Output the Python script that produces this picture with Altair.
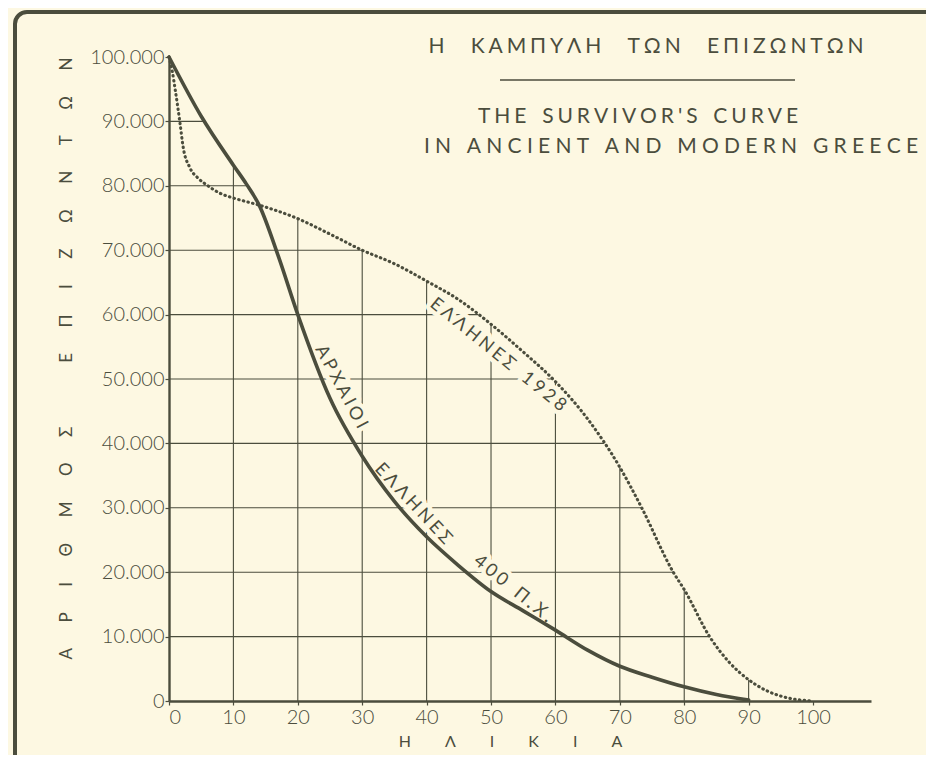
import altair as alt
import numpy as np
import pandas as pd

BG = "#fdf8e2"
INK = "#4b4d3d"
FONT = "Lato"
FW = 400

# --- data -----------------------------------------------------------------
ancient_age = [0, 5, 10, 12, 14, 17, 20, 25, 30, 35, 40, 45, 50, 55, 60, 65, 70, 75, 80, 85, 90]
ancient_surv = [100000, 90800, 83200, 80300, 77000, 69000, 60000, 47000, 38000, 31000, 25500,
                21000, 17000, 14000, 11000, 7900, 5400, 3700, 2200, 1000, 150]

modern_age = [0, 0.5, 1, 1.7, 2.2, 3.2, 4.5, 5.9, 8, 10, 14, 20, 25, 30, 35, 40, 45, 50, 55, 60,
              65, 70, 73.4, 78.3, 80, 84, 87, 90, 93, 96, 100]
modern_surv = [100000, 97800, 94700, 89800, 86000, 82900, 81200, 80100, 78800, 78100, 77000,
               74900, 72500, 70000, 67900, 65200, 62300, 58500, 54200, 49600, 43800, 36300,
               30000, 20000, 17300, 9900, 6000, 3300, 1500, 500, 0]

x_ticks = [0, 10, 20, 30, 40, 50, 60, 70, 80, 90, 100]
y_ticks = [0, 10000, 20000, 30000, 40000, 50000, 60000, 70000, 80000, 90000, 100000]
grid_ages = [10, 20, 30, 40, 50, 60, 70, 80, 90]
grid_levels = [10000, 20000, 30000, 40000, 50000, 60000, 70000, 80000, 90000]

X_MAX = 109

# grid lines stop at the upper envelope of the two curves
fine = np.linspace(0, X_MAX, 10901)
env = np.maximum(np.interp(fine, ancient_age, ancient_surv, right=0),
                 np.interp(fine, modern_age, modern_surv, right=0))
vgrid = pd.DataFrame({
    "age": grid_ages,
    "y0": [0] * len(grid_ages),
    "top": [float(np.interp(a, fine, env)) for a in grid_ages],
})
hgrid = pd.DataFrame({
    "level": grid_levels,
    "x0": [0] * len(grid_levels),
    "xr": [float(np.interp(lv, env[::-1], fine[::-1])) for lv in grid_levels],
})

ancient = pd.DataFrame({"age": ancient_age, "surv": ancient_surv})
modern = pd.DataFrame({"age": modern_age, "surv": modern_surv})


def spaced(s, sep="\u2009", word="\u2002\u2002"):
    return word.join(sep.join(list(w)) for w in s.split(" "))


xs = alt.Scale(domain=[0, X_MAX], nice=False, zero=False)
ys = alt.Scale(domain=[0, 100000], nice=False)

axis_x = alt.Axis(
    values=x_ticks, grid=False, domainColor=INK, domainWidth=2.4, tickColor=INK,
    tickSize=4, tickWidth=1.2, labelFont=FONT, labelFontSize=20, labelFontWeight=300,
    labelColor=INK, labelPadding=2,
    title=spaced("ΗΛΙΚΙΑ", sep="\u2003\u2003\u2002\u2009"), titleFont=FONT,
    titleFontSize=16, titleFontWeight=FW, titleColor=INK, titleX=341, titleY=40,
    titleBaseline="middle", titleAlign="center",
)
Y_TITLE_SEP = "\u2003\u2003"
axis_y = alt.Axis(
    values=y_ticks, grid=False, domainColor=INK, domainWidth=2.4, tickColor=INK,
    tickSize=4, tickWidth=1.2, labelFont=FONT, labelFontSize=20, labelFontWeight=300,
    labelColor=INK, labelPadding=1,
    labelExpr="replace(format(datum.value, ','), ',', '.')",
    title=spaced("ΑΡΙΘΜΟΣ ΕΠΙΖΩΝΤΩΝ", sep=Y_TITLE_SEP, word="\u2003" * 5),
    titleFont=FONT, titleFontSize=17, titleFontWeight=FW, titleColor=INK,
    titleAngle=270, titleX=-103, titleY=301, titleAlign="center", titleBaseline="middle",
)

one = alt.Data(values=[{"k": 1}])

frame = alt.Chart(one).mark_rect(
    fillOpacity=0, stroke=INK, strokeWidth=4, cornerRadius=12
).encode(x=alt.value(-154), x2=alt.value(830), y=alt.value(-45), y2=alt.value(760))

vg = alt.Chart(vgrid).mark_rule(color=INK, strokeWidth=1.1).encode(
    x=alt.X("age:Q", scale=xs, axis=axis_x),
    y=alt.Y("y0:Q", scale=ys, axis=axis_y),
    y2="top:Q",
)
hg = alt.Chart(hgrid).mark_rule(color=INK, strokeWidth=1.1).encode(
    y=alt.Y("level:Q", scale=ys, axis=axis_y),
    x=alt.X("x0:Q", scale=xs, axis=axis_x),
    x2="xr:Q",
)

# curve labels (text, pixel position within plot, angle)
labels = [
    (spaced("ΕΛΛΗΝΕΣ 1928", sep="\u2009\u200a", word="\u2003"), 329, 298, 39),
    (spaced("ΑΡΧΑΙΟΙ", sep="\u2009\u200a"), 172, 330, 62),
    (spaced("ΕΛΛΗΝΕΣ", sep="\u2009\u200a"), 244, 447, 47),
    (spaced("400 Π.Χ.", sep="\u2009\u200a", word="\u2003"), 344, 532, 39),
]


def label_layer(txt, px, py, ang, halo):
    kw = dict(font=FONT, fontSize=18, fontWeight=FW, angle=ang, align="center",
              baseline="middle", color=INK)
    if halo:
        kw.update(stroke=BG, strokeWidth=9, strokeJoin="round")
    return alt.Chart(one).mark_text(**kw).encode(
        x=alt.value(px), y=alt.value(py), text=alt.value(txt))


halos = [label_layer(t, px, py, a, True) for t, px, py, a in labels]
texts = [label_layer(t, px, py, a, False) for t, px, py, a in labels]

modern_line = alt.Chart(modern).mark_line(
    color=INK, strokeWidth=3.1, strokeDash=[0.5, 4.3], strokeCap="round", interpolate="monotone"
).encode(x=alt.X("age:Q", scale=xs, axis=axis_x), y=alt.Y("surv:Q", scale=ys, axis=axis_y))

ancient_line = alt.Chart(ancient).mark_line(
    color=INK, strokeWidth=3.6, interpolate="monotone", strokeCap="round"
).encode(x=alt.X("age:Q", scale=xs, axis=axis_x), y=alt.Y("surv:Q", scale=ys, axis=axis_y))


def title_text(txt, px, py, size):
    return alt.Chart(one).mark_text(
        font=FONT, fontSize=size, fontWeight=FW, align="center", baseline="middle", color=INK
    ).encode(x=alt.value(px), y=alt.value(py), text=alt.value(txt))


t1 = title_text(spaced("Η ΚΑΜΠΥΛΗ ΤΩΝ ΕΠΙΖΩΝΤΩΝ", sep="\u2009\u200a", word="\u2003\u2002"), 477, -10, 21)
underline = alt.Chart(one).mark_rule(color=INK, strokeWidth=1.6).encode(
    x=alt.value(331), x2=alt.value(626), y=alt.value(23))
t2 = title_text(spaced("THE SURVIVOR'S CURVE", sep="\u2009\u200a", word="\u2003"), 469, 60, 21)
t3 = title_text(spaced("IN ANCIENT AND MODERN GREECE", sep="\u2009\u200a\u200a", word="\u2003"), 502, 90, 21)

chart = alt.layer(
    frame, vg, hg, *halos, modern_line, ancient_line, *texts, t1, underline, t2, t3
).properties(
    width=702, height=644,
    autosize=alt.AutoSizeParams(type="none"),
    padding={"left": 161, "top": 49, "right": 55, "bottom": 54},
    background=BG,
).configure_view(stroke=None)

chart.save("out.html", embed_options={"renderer": "svg", "actions": False})
